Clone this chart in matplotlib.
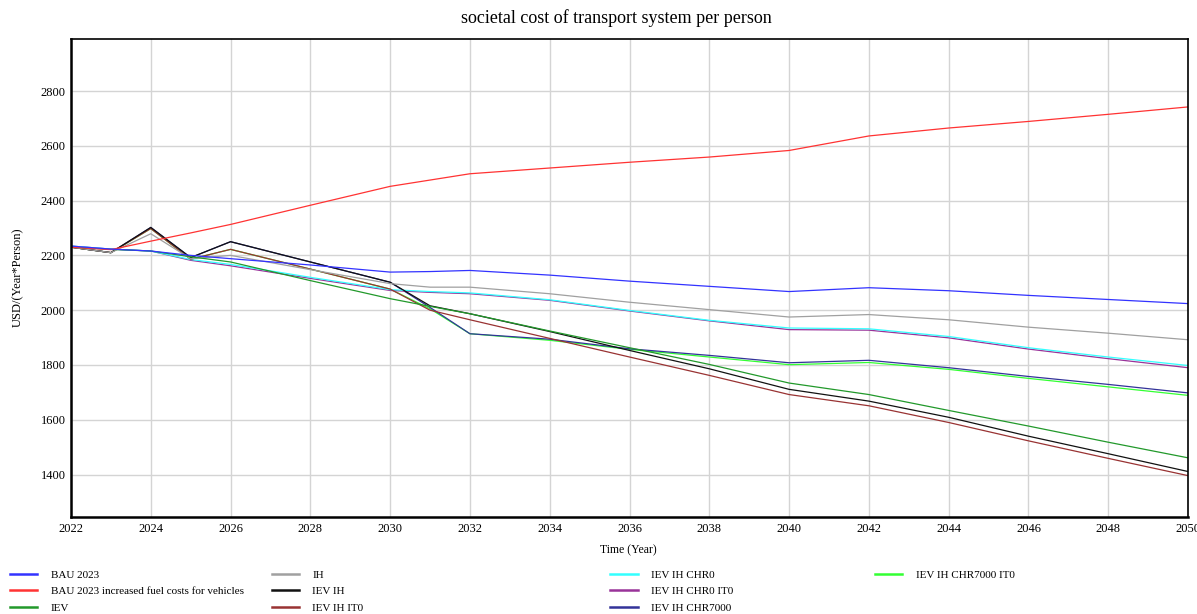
import matplotlib

matplotlib.use("Agg")
import matplotlib.pyplot as plt

plt.rcParams["font.family"] = ["Liberation Serif", "DejaVu Serif"]

# time points (years) shared by every run
years = [2022, 2023, 2024, 2025, 2026, 2028, 2030, 2031, 2032, 2034,
         2036, 2038, 2040, 2042, 2044, 2046, 2048, 2050]

# societal cost per person, USD/(Year*Person)
bau_2023 = [2234, 2223, 2216, 2200, 2188, 2165, 2139, 2141, 2145, 2128,
            2106, 2087, 2068, 2082, 2071, 2054, 2039, 2024]
bau_2023_fuel = [2230, 2221, 2252, 2282, 2313, 2383, 2452, 2475, 2498, 2519,
                 2540, 2559, 2583, 2636, 2665, 2689, 2715, 2742]
iev = [2230, 2222, 2216, 2195, 2176, 2108, 2042, 2014, 1987, 1924,
       1863, 1802, 1734, 1692, 1634, 1577, 1518, 1461]
ih = [2230, 2210, 2279, 2188, 2200, 2148, 2097, 2084, 2084, 2060,
      2029, 2002, 1975, 1984, 1965, 1938, 1916, 1892]
iev_ih = [2230, 2210, 2302, 2192, 2250, 2176, 2102, 2016, 1987, 1922,
          1853, 1786, 1711, 1668, 1609, 1540, 1476, 1411]
iev_ih_it0 = [2230, 2210, 2298, 2186, 2222, 2150, 2077, 2000, 1965, 1897,
              1829, 1762, 1692, 1651, 1590, 1523, 1459, 1396]
iev_ih_chr0 = [2234, 2223, 2216, 2185, 2167, 2120, 2075, 2068, 2063, 2038,
               1999, 1963, 1935, 1932, 1904, 1863, 1829, 1798]
iev_ih_chr0_it0 = [2234, 2223, 2216, 2182, 2162, 2116, 2072, 2065, 2060, 2036,
                   1997, 1961, 1929, 1927, 1899, 1858, 1823, 1790]
iev_ih_chr7000 = [2230, 2210, 2302, 2192, 2250, 2176, 2102, 2010, 1914, 1894,
                  1859, 1835, 1808, 1817, 1790, 1758, 1729, 1698]
iev_ih_chr7000_it0 = [2230, 2210, 2298, 2186, 2222, 2150, 2077, 2005, 1914, 1890,
                      1857, 1829, 1801, 1809, 1784, 1751, 1720, 1689]

series = [
    ("BAU 2023", bau_2023, "#3333ff"),
    ("BAU 2023 increased fuel costs for vehicles", bau_2023_fuel, "#ff3333"),
    ("IEV", iev, "#22992b"),
    ("IH", ih, "#a0a0a0"),
    ("IEV IH", iev_ih, "#111111"),
    ("IEV IH IT0", iev_ih_it0, "#993333"),
    ("IEV IH CHR0", iev_ih_chr0, "#33ffff"),
    ("IEV IH CHR0 IT0", iev_ih_chr0_it0, "#993399"),
    ("IEV IH CHR7000", iev_ih_chr7000, "#333399"),
    ("IEV IH CHR7000 IT0", iev_ih_chr7000_it0, "#33ff33"),
]

fig = plt.figure(figsize=(11.97, 6.14), dpi=100)
ax = fig.add_axes([0.0593, 0.158, 0.9332, 0.7785])

handles = []
# draw in reverse so the first run sits on top, as in the source tool
for name, vals, color in reversed(series):
    (ln,) = ax.plot(years, vals, color=color, linewidth=0.9, label=name)
    handles.append(ln)
handles = handles[::-1]

ax.set_xlim(2022, 2050)
ax.set_ylim(1245, 2990)
ax.set_xticks(range(2022, 2051, 2))
ax.set_yticks(range(1400, 2801, 200))
ax.grid(True, color="#d4d4d4", linewidth=1.0)
ax.set_axisbelow(True)
ax.tick_params(length=0, labelsize=9, pad=4)
ax.tick_params(axis="x", pad=4)
for side in ("left", "bottom"):
    ax.spines[side].set_linewidth(1.8)
for side in ("top", "right"):
    ax.spines[side].set_linewidth(1.2)

fig.text(0.515, 0.970, "societal cost of transport system per person",
         ha="center", va="center", fontsize=13)
fig.text(0.015, 0.549, "USD/(Year*Person)", rotation=90,
         ha="center", va="center", fontsize=9)
fig.text(0.525, 0.103, "Time (Year)", ha="center", va="center", fontsize=8.5)

# legend: four columns laid out like the original
col_x = [0.0084, 0.227, 0.510, 0.731]
col_rows = [handles[0:3], handles[3:6], handles[6:9], handles[9:10]]
for x0, hs in zip(col_x, col_rows):
    leg = fig.legend(
        handles=hs, loc="upper left", bbox_to_anchor=(x0, 0.072),
        frameon=False, fontsize=8, handlelength=2.45, handletextpad=1.2,
        labelspacing=0.62, borderpad=0, borderaxespad=0,
    )
    for lh in leg.get_lines():
        lh.set_linewidth(1.8)

fig.savefig("out.png", dpi=100)
